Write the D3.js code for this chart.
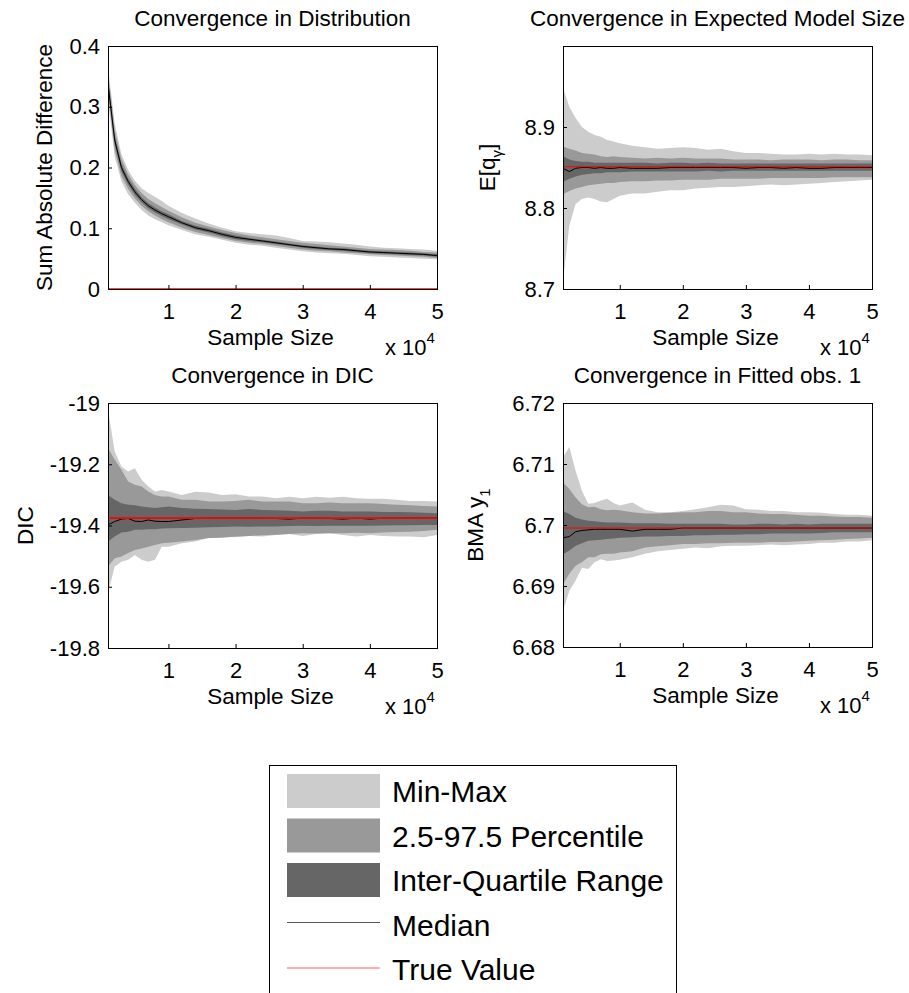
<!DOCTYPE html>
<html>
<head>
<meta charset="utf-8">
<script src="https://cdn.jsdelivr.net/npm/d3@7/dist/d3.min.js"></script>
<style>
  body { margin: 0; background: #fff; }
  svg { display: block; font-family: "Liberation Sans", Arial, sans-serif; }
</style>
</head>
<body>
<svg id="chart"></svg>
<script>
// sample sizes (x axis)
const sampleSize = [1000, 2000, 3000, 4000, 5000, 6000, 7000, 8000, 9000, 10000,
  12000, 14000, 16000, 18000, 20000, 22000, 24000, 26000, 28000, 30000,
  32000, 34000, 36000, 38000, 40000, 42000, 44000, 46000, 48000, 50000]

const xTicks = [10000, 20000, 30000, 40000, 50000]

// Convergence in Distribution
const distMax = [.366, .272, .222, .196, .178, .166, .158, .152, .145, .137, .125, .116, .108, .101, .095, .092, .090, .088, .084, .079, .078, .077, .075, .073, .070, .068, .067, .066, .065, .063]
const distHi  = [.356, .262, .214, .189, .171, .158, .148, .141, .135, .129, .118, .109, .103, .097, .092, .088, .085, .082, .079, .076, .074, .072, .070, .068, .066, .065, .064, .063, .061, .060]
const distQ3  = [.345, .252, .206, .182, .165, .151, .141, .134, .128, .123, .112, .104, .099, .093, .088, .084, .081, .078, .075, .072, .070, .068, .067, .065, .063, .062, .061, .060, .059, .057]
const distMed = [.338, .245, .200, .177, .160, .147, .137, .130, .124, .119, .109, .101, .096, .090, .085, .082, .079, .076, .073, .070, .068, .066, .065, .063, .061, .060, .059, .058, .057, .055]
const distQ1  = [.331, .238, .194, .172, .155, .143, .133, .126, .120, .115, .106, .098, .093, .087, .082, .079, .077, .074, .071, .068, .066, .064, .063, .061, .059, .058, .057, .056, .055, .053]
const distLo  = [.321, .228, .186, .165, .149, .137, .128, .121, .115, .110, .101, .094, .089, .084, .079, .076, .074, .071, .068, .065, .063, .062, .060, .059, .057, .056, .055, .054, .053, .051]
const distMin = [.310, .218, .177, .156, .142, .130, .121, .115, .110, .105, .097, .090, .086, .081, .076, .073, .071, .068, .065, .062, .060, .059, .058, .056, .054, .053, .052, .051, .050, .049]
const distTrue = 0
const distTicks = [0, 0.1, 0.2, 0.3, 0.4]

// Convergence in Expected Model Size
const sizeMax = [8.948, 8.925, 8.911, 8.900, 8.894, 8.890, 8.888, 8.884, 8.882, 8.880, 8.877, 8.875, 8.873, 8.874, 8.875, 8.874, 8.872, 8.873, 8.870, 8.868, 8.868, 8.867, 8.866, 8.866, 8.867, 8.866, 8.867, 8.866, 8.866, 8.865]
const sizeHi  = [8.876, 8.873, 8.871, 8.868, 8.867, 8.866, 8.864, 8.863, 8.864, 8.863, 8.862, 8.861, 8.862, 8.861, 8.862, 8.861, 8.861, 8.861, 8.860, 8.860, 8.860, 8.859, 8.860, 8.860, 8.860, 8.859, 8.860, 8.860, 8.859, 8.859]
const sizeQ3  = [8.864, 8.860, 8.858, 8.857, 8.857, 8.856, 8.856, 8.856, 8.856, 8.856, 8.856, 8.856, 8.855, 8.856, 8.856, 8.855, 8.856, 8.855, 8.855, 8.855, 8.855, 8.855, 8.855, 8.855, 8.855, 8.855, 8.855, 8.855, 8.855, 8.855]
const sizeMed = [8.849, 8.845, 8.849, 8.850, 8.850, 8.849, 8.850, 8.849, 8.849, 8.850, 8.849, 8.849, 8.849, 8.850, 8.850, 8.850, 8.850, 8.850, 8.850, 8.849, 8.850, 8.850, 8.849, 8.850, 8.849, 8.849, 8.850, 8.850, 8.850, 8.850]
const sizeQ1  = [8.832, 8.836, 8.839, 8.841, 8.842, 8.843, 8.843, 8.844, 8.844, 8.844, 8.845, 8.845, 8.845, 8.845, 8.845, 8.845, 8.846, 8.845, 8.846, 8.846, 8.846, 8.846, 8.846, 8.846, 8.846, 8.846, 8.846, 8.846, 8.846, 8.846]
const sizeLo  = [8.817, 8.821, 8.824, 8.826, 8.828, 8.829, 8.830, 8.831, 8.831, 8.832, 8.833, 8.833, 8.834, 8.834, 8.835, 8.835, 8.835, 8.836, 8.836, 8.836, 8.836, 8.837, 8.837, 8.837, 8.837, 8.837, 8.838, 8.838, 8.838, 8.838]
const sizeMin = [8.710, 8.778, 8.805, 8.811, 8.813, 8.811, 8.808, 8.807, 8.811, 8.815, 8.818, 8.818, 8.820, 8.822, 8.822, 8.824, 8.825, 8.826, 8.826, 8.827, 8.828, 8.829, 8.828, 8.829, 8.830, 8.831, 8.832, 8.833, 8.834, 8.835]
const sizeTrue = 8.851
const sizeTicks = [8.7, 8.8, 8.9]

// Convergence in DIC
const dicMax = [-19.022, -19.158, -19.207, -19.224, -19.213, -19.251, -19.273, -19.289, -19.284, -19.289, -19.300, -19.290, -19.292, -19.300, -19.298, -19.305, -19.305, -19.311, -19.306, -19.311, -19.306, -19.309, -19.306, -19.311, -19.313, -19.313, -19.316, -19.320, -19.320, -19.322]
const dicHi  = [-19.147, -19.185, -19.218, -19.256, -19.267, -19.273, -19.289, -19.300, -19.305, -19.305, -19.316, -19.316, -19.322, -19.322, -19.320, -19.316, -19.322, -19.322, -19.322, -19.327, -19.327, -19.325, -19.327, -19.327, -19.327, -19.330, -19.332, -19.334, -19.336, -19.338]
const dicQ3  = [-19.300, -19.316, -19.327, -19.332, -19.334, -19.338, -19.340, -19.343, -19.340, -19.338, -19.343, -19.345, -19.346, -19.348, -19.349, -19.346, -19.349, -19.350, -19.352, -19.354, -19.352, -19.352, -19.354, -19.354, -19.354, -19.356, -19.356, -19.357, -19.358, -19.360]
const dicMed = [-19.398, -19.387, -19.379, -19.377, -19.386, -19.387, -19.382, -19.386, -19.387, -19.387, -19.382, -19.377, -19.376, -19.376, -19.376, -19.376, -19.376, -19.377, -19.379, -19.376, -19.376, -19.377, -19.379, -19.376, -19.379, -19.376, -19.376, -19.376, -19.376, -19.376]
const dicQ1  = [-19.452, -19.436, -19.423, -19.420, -19.414, -19.414, -19.412, -19.412, -19.410, -19.409, -19.408, -19.407, -19.406, -19.405, -19.403, -19.404, -19.403, -19.403, -19.402, -19.401, -19.402, -19.401, -19.401, -19.401, -19.401, -19.400, -19.399, -19.399, -19.398, -19.398]
const dicLo  = [-19.534, -19.507, -19.501, -19.490, -19.480, -19.475, -19.469, -19.464, -19.458, -19.456, -19.452, -19.447, -19.441, -19.440, -19.436, -19.434, -19.432, -19.430, -19.428, -19.425, -19.426, -19.425, -19.425, -19.424, -19.425, -19.423, -19.421, -19.420, -19.418, -19.414]
const dicMin = [-19.621, -19.534, -19.518, -19.512, -19.496, -19.512, -19.518, -19.512, -19.469, -19.469, -19.458, -19.452, -19.441, -19.436, -19.438, -19.434, -19.436, -19.431, -19.428, -19.434, -19.428, -19.425, -19.431, -19.436, -19.431, -19.434, -19.436, -19.436, -19.438, -19.431]
const dicTrue = -19.376
const dicTicks = [-19.8, -19.6, -19.4, -19.2, -19]

// Convergence in Fitted obs. 1
const fitMax = [6.7111, 6.7128, 6.7089, 6.7056, 6.7035, 6.7036, 6.7040, 6.7043, 6.7036, 6.7032, 6.7037, 6.7025, 6.7021, 6.7021, 6.7023, 6.7026, 6.7029, 6.7033, 6.7032, 6.7026, 6.7025, 6.7023, 6.7023, 6.7021, 6.7021, 6.7020, 6.7018, 6.7017, 6.7017, 6.7015]
const fitHi  = [6.7070, 6.7059, 6.7045, 6.7034, 6.7029, 6.7030, 6.7026, 6.7024, 6.7025, 6.7024, 6.7021, 6.7019, 6.7019, 6.7020, 6.7021, 6.7021, 6.7023, 6.7023, 6.7021, 6.7021, 6.7019, 6.7018, 6.7018, 6.7017, 6.7015, 6.7015, 6.7014, 6.7013, 6.7013, 6.7012]
const fitQ3  = [6.7023, 6.7018, 6.7012, 6.7009, 6.7007, 6.7006, 6.7005, 6.7004, 6.7004, 6.7004, 6.7003, 6.7003, 6.7003, 6.7002, 6.7002, 6.7002, 6.7002, 6.7002, 6.7001, 6.7001, 6.7002, 6.7002, 6.7001, 6.7002, 6.7001, 6.7002, 6.7002, 6.7002, 6.7002, 6.7002]
const fitMed = [6.6979, 6.6981, 6.6989, 6.6991, 6.6992, 6.6993, 6.6993, 6.6993, 6.6993, 6.6993, 6.6990, 6.6993, 6.6993, 6.6993, 6.6995, 6.6995, 6.6995, 6.6995, 6.6995, 6.6995, 6.6995, 6.6995, 6.6995, 6.6995, 6.6995, 6.6995, 6.6995, 6.6995, 6.6995, 6.6995]
const fitQ1  = [6.6952, 6.6958, 6.6966, 6.6970, 6.6974, 6.6975, 6.6976, 6.6977, 6.6978, 6.6979, 6.6980, 6.6981, 6.6981, 6.6982, 6.6982, 6.6983, 6.6983, 6.6984, 6.6984, 6.6985, 6.6985, 6.6986, 6.6986, 6.6986, 6.6986, 6.6987, 6.6988, 6.6988, 6.6988, 6.6988]
const fitLo  = [6.6903, 6.6920, 6.6933, 6.6939, 6.6947, 6.6947, 6.6952, 6.6953, 6.6953, 6.6955, 6.6957, 6.6963, 6.6965, 6.6967, 6.6969, 6.6969, 6.6970, 6.6970, 6.6971, 6.6971, 6.6971, 6.6972, 6.6972, 6.6973, 6.6974, 6.6975, 6.6976, 6.6977, 6.6978, 6.6979]
const fitMin = [6.6860, 6.6892, 6.6909, 6.6930, 6.6928, 6.6939, 6.6944, 6.6941, 6.6942, 6.6943, 6.6947, 6.6953, 6.6957, 6.6959, 6.6961, 6.6963, 6.6962, 6.6965, 6.6966, 6.6966, 6.6967, 6.6968, 6.6967, 6.6968, 6.6969, 6.6971, 6.6971, 6.6973, 6.6973, 6.6975]
const fitTrue = 6.6995
const fitTicks = [6.68, 6.69, 6.70, 6.71, 6.72]

const legendLabels = ["Min-Max", "2.5-97.5 Percentile", "Inter-Quartile Range", "Median", "True Value"]

const width = 909
const height = 993
const colMin = "#cccccc"
const colPct = "#999999"
const colIqr = "#666666"

// plain hyphen for negative tick labels, like the original
const locale = d3.formatLocale({ decimal: ".", thousands: ",", grouping: [3], currency: ["", ""], minus: "-" })

const svg = d3.select("#chart")
    .attr("width", width)
    .attr("height", height)

svg.append("rect")
    .attr("width", width)
    .attr("height", height)
    .attr("fill", "#fff")

const panels = [
    { id: "p1", title: "Convergence in Distribution", ylab: ["Sum Absolute Difference"], left: 108, right: 437, top: 46, bottom: 289,
      domain: [0, 0.4], ticks: distTicks, fmt: locale.format(".1~f"), labX: 52, redW: 1.5,
      min: distMin, lo: distLo, q1: distQ1, med: distMed, q3: distQ3, hi: distHi, max: distMax, truth: distTrue },
    { id: "p2", title: "Convergence in Expected Model Size", ylab: ["E[q", "γ", "]"], left: 563, right: 872, top: 46, bottom: 289,
      domain: [8.7, 9.0], ticks: sizeTicks, fmt: locale.format(".1f"), labX: 495, redW: 1.1,
      min: sizeMin, lo: sizeLo, q1: sizeQ1, med: sizeMed, q3: sizeQ3, hi: sizeHi, max: sizeMax, truth: sizeTrue },
    { id: "p3", title: "Convergence in DIC", ylab: ["DIC"], left: 108, right: 437, top: 403, bottom: 648,
      domain: [-19.8, -19], ticks: dicTicks, fmt: locale.format(".1~f"), labX: 33, redW: 1.6,
      min: dicMin, lo: dicLo, q1: dicQ1, med: dicMed, q3: dicQ3, hi: dicHi, max: dicMax, truth: dicTrue },
    { id: "p4", title: "Convergence in Fitted obs. 1", ylab: ["BMA y", "1", ""], left: 563, right: 872, top: 403, bottom: 647,
      domain: [6.68, 6.72], ticks: fitTicks, fmt: locale.format(".2~f"), labX: 483, redW: 1.1,
      min: fitMin, lo: fitLo, q1: fitQ1, med: fitMed, q3: fitQ3, hi: fitHi, max: fitMax, truth: fitTrue }
]

panels.forEach(function (p) {
    const x = d3.scaleLinear().domain([1000, 50000]).range([p.left, p.right])
    const y = d3.scaleLinear().domain(p.domain).range([p.bottom, p.top])

    const rows = sampleSize.map(function (s, i) {
        return { s: s, min: p.min[i], lo: p.lo[i], q1: p.q1[i], med: p.med[i], q3: p.q3[i], hi: p.hi[i], max: p.max[i] }
    })

    svg.append("clipPath").attr("id", "clip-" + p.id)
        .append("rect")
        .attr("x", p.left).attr("y", p.top)
        .attr("width", p.right - p.left).attr("height", p.bottom - p.top)

    const g = svg.append("g").attr("clip-path", "url(#clip-" + p.id + ")")

    const band = function (a, b) {
        return d3.area()
            .x(function (d) { return x(d.s) })
            .y0(function (d) { return y(d[a]) })
            .y1(function (d) { return y(d[b]) })
    }

    g.append("path").datum(rows).attr("d", band("min", "max")).style("fill", colMin)
    g.append("path").datum(rows).attr("d", band("lo", "hi")).style("fill", colPct)
    g.append("path").datum(rows).attr("d", band("q1", "q3")).style("fill", colIqr)

    g.append("path")
        .datum(rows)
        .attr("d", d3.line().x(function (d) { return x(d.s) }).y(function (d) { return y(d.med) }))
        .style("fill", "none")
        .style("stroke", "#000")
        .style("stroke-width", "1")

    g.append("line")
        .attr("x1", x(1000)).attr("x2", x(50000))
        .attr("y1", y(p.truth)).attr("y2", y(p.truth))
        .style("stroke", "#ff0000")
        .style("stroke-width", p.redW)

    // axes with inward ticks
    const bottomAxis = svg.append("g")
        .attr("transform", `translate(0, ${p.bottom})`)
        .call(d3.axisBottom(x).tickValues(xTicks).tickSize(-4).tickPadding(9)
            .tickFormat(function (d) { return d / 10000 }))
    const leftAxis = svg.append("g")
        .attr("transform", `translate(${p.left}, 0)`)
        .call(d3.axisLeft(y).tickValues(p.ticks).tickSize(-4).tickPadding(8).tickFormat(p.fmt))

    ;[bottomAxis, leftAxis].forEach(function (a) {
        a.select(".domain").remove()
        a.selectAll("line").style("stroke", "#000")
        a.selectAll("text")
            .style("font-size", "22px")
            .style("font-family", "'Liberation Sans', Arial, sans-serif")
            .style("fill", "#000")
    })
    bottomAxis.selectAll("text").attr("dy", "0.95em")

    svg.append("rect")
        .attr("x", p.left + 0.5).attr("y", p.top + 0.5)
        .attr("width", p.right - p.left).attr("height", p.bottom - p.top)
        .style("fill", "none")
        .style("stroke", "#000")
        .style("stroke-width", "1")

    svg.append("text")
        .text(p.title)
        .attr("x", (p.left + p.right) / 2)
        .attr("y", p.top - 20)
        .attr("text-anchor", "middle")
        .style("font-size", "22.5px")

    svg.append("text")
        .text("Sample Size")
        .attr("x", (p.left + p.right) / 2 - 2)
        .attr("y", p.bottom + 56)
        .attr("text-anchor", "middle")
        .style("font-size", "22.5px")

    const expo = svg.append("text")
        .attr("x", p.right - 52)
        .attr("y", p.bottom + 66)
        .style("font-size", "22px")
    expo.append("tspan").text("x 10")
    expo.append("tspan").text("4").attr("dy", -12).style("font-size", "15px")

    const yl = svg.append("text")
        .attr("transform", `translate(${p.labX}, ${(p.top + p.bottom) / 2}) rotate(-90)`)
        .attr("text-anchor", "middle")
        .style("font-size", "22.5px")
    yl.append("tspan").text(p.ylab[0])
    if (p.ylab.length > 1) {
        yl.append("tspan").text(p.ylab[1]).attr("dy", 7).style("font-size", "15px")
        yl.append("tspan").text(p.ylab[2]).attr("dy", -7)
    }
})

// legend
const legend = svg.append("g")
legend.append("rect")
    .attr("x", 269.5).attr("y", 765.5)
    .attr("width", 407).attr("height", 260)
    .style("fill", "#fff")
    .style("stroke", "#000")
    .style("stroke-width", "1")

const swatchFill = [colMin, colPct, colIqr]
legendLabels.forEach(function (label, i) {
    const cy = 791 + i * 44.5
    if (i < 3) {
        legend.append("rect")
            .attr("x", 287).attr("y", cy - 17)
            .attr("width", 93).attr("height", 34)
            .style("fill", swatchFill[i])
    } else {
        legend.append("line")
            .attr("x1", 287).attr("x2", 380)
            .attr("y1", cy + (i === 3 ? -2 : -1)).attr("y2", cy + (i === 3 ? -2 : -1))
            .style("stroke", i === 3 ? "#555" : "#ff6060")
            .style("stroke-width", "1.2")
    }
    legend.append("text")
        .text(label)
        .attr("x", 392)
        .attr("y", cy + 11)
        .style("font-size", "30px")
})
</script>
</body>
</html>
